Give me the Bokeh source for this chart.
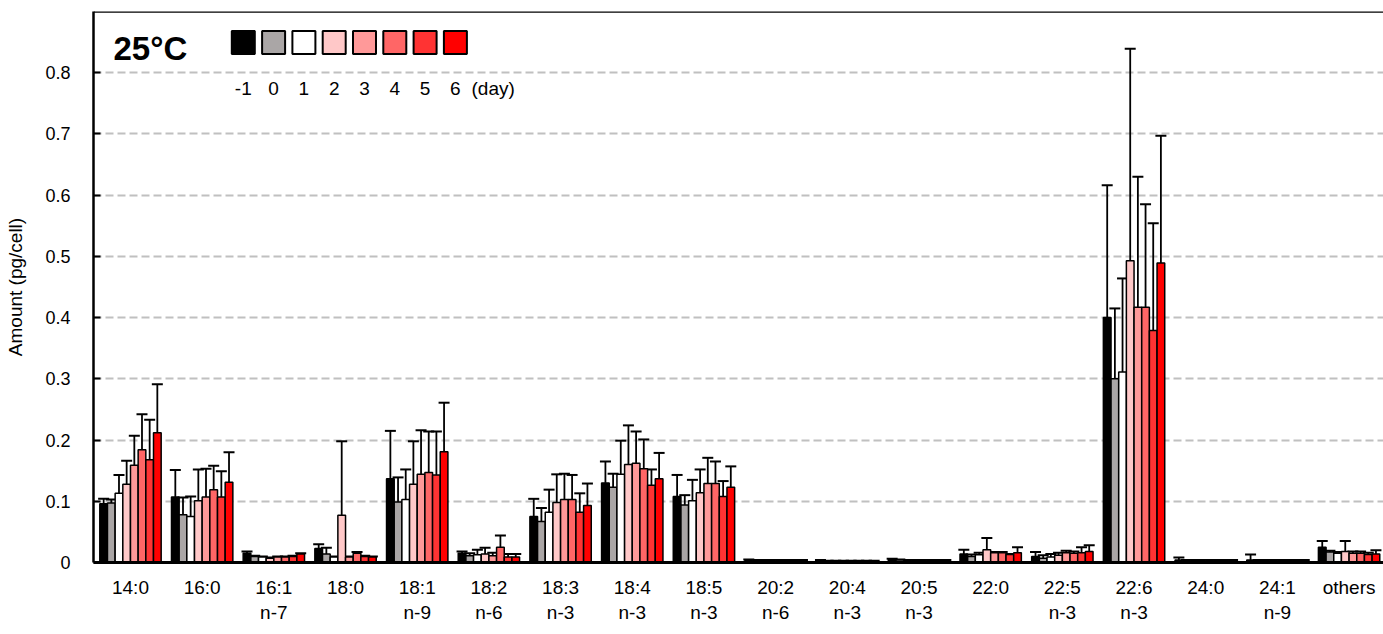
from bokeh.plotting import figure
from bokeh.models import (ColumnDataSource, Whisker, TeeHead, FixedTicker, Span,
                          CustomJSTickFormatter, Range1d)
from bokeh.core.properties import value
from bokeh.embed import file_html
from bokeh.resources import INLINE

# ---------------- data ----------------
groups = ["14:0", "16:0", "16:1\nn-7", "18:0", "18:1\nn-9", "18:2\nn-6", "18:3\nn-3",
          "18:4\nn-3", "18:5\nn-3", "20:2\nn-6", "20:4\nn-3", "20:5\nn-3", "22:0",
          "22:5\nn-3", "22:6\nn-3", "24:0", "24:1\nn-9", "others"]
days = ["-1", "0", "1", "2", "3", "4", "5", "6"]
colors = ["#000000", "#aaa6a6", "#ffffff", "#ffc8c8", "#ff9999", "#ff6666", "#ff3333", "#ff0000"]

day_m1 = [0.096, 0.107, 0.015, 0.023, 0.137, 0.015, 0.075, 0.130, 0.108, 0.004, 0.003, 0.005, 0.014, 0.010, 0.400, 0.004, 0.004, 0.025]
day_0 = [0.097, 0.078, 0.010, 0.014, 0.099, 0.011, 0.067, 0.123, 0.094, 0.003, 0.002, 0.004, 0.010, 0.007, 0.300, 0.003, 0.003, 0.017]
day_1 = [0.113, 0.075, 0.009, 0.009, 0.103, 0.0125, 0.082, 0.144, 0.101, 0.003, 0.002, 0.003, 0.0125, 0.009, 0.311, 0.003, 0.003, 0.015]
day_2 = [0.128, 0.101, 0.007, 0.077, 0.128, 0.014, 0.098, 0.160, 0.114, 0.003, 0.002, 0.003, 0.021, 0.012, 0.493, 0.003, 0.003, 0.018]
day_3 = [0.159, 0.107, 0.009, 0.009, 0.144, 0.011, 0.103, 0.162, 0.129, 0.003, 0.002, 0.003, 0.016, 0.016, 0.417, 0.003, 0.003, 0.015]
day_4 = [0.184, 0.119, 0.009, 0.015, 0.147, 0.025, 0.103, 0.153, 0.129, 0.003, 0.002, 0.003, 0.016, 0.015, 0.417, 0.003, 0.003, 0.015]
day_5 = [0.168, 0.107, 0.010, 0.010, 0.143, 0.009, 0.082, 0.126, 0.108, 0.003, 0.002, 0.003, 0.013, 0.016, 0.379, 0.003, 0.003, 0.013]
day_6 = [0.212, 0.131, 0.014, 0.009, 0.181, 0.009, 0.093, 0.137, 0.123, 0.003, 0.002, 0.003, 0.016, 0.018, 0.489, 0.003, 0.003, 0.014]

# top of each error bar (mean + SD)
top_m1 = [0.104, 0.151, 0.018, 0.030, 0.215, 0.018, 0.104, 0.165, 0.143, 0.005, 0.004, 0.006, 0.021, 0.017, 0.616, 0.008, 0.013, 0.035]
top_0 = [0.103, 0.106, 0.011, 0.024, 0.139, 0.015, 0.089, 0.145, 0.110, 0.004, 0.003, 0.005, 0.013, 0.012, 0.415, 0.004, 0.004, 0.019]
top_1 = [0.143, 0.108, 0.010, 0.010, 0.152, 0.021, 0.119, 0.199, 0.135, 0.004, 0.003, 0.004, 0.016, 0.014, 0.464, 0.004, 0.004, 0.017]
top_2 = [0.166, 0.152, 0.008, 0.198, 0.198, 0.024, 0.144, 0.224, 0.152, 0.004, 0.003, 0.004, 0.040, 0.016, 0.839, 0.004, 0.004, 0.035]
top_3 = [0.207, 0.153, 0.010, 0.010, 0.216, 0.016, 0.145, 0.214, 0.171, 0.004, 0.003, 0.004, 0.017, 0.019, 0.630, 0.004, 0.004, 0.018]
top_4 = [0.242, 0.158, 0.010, 0.017, 0.214, 0.044, 0.143, 0.201, 0.165, 0.004, 0.003, 0.004, 0.017, 0.018, 0.585, 0.004, 0.004, 0.018]
top_5 = [0.233, 0.149, 0.011, 0.011, 0.214, 0.014, 0.113, 0.152, 0.133, 0.004, 0.003, 0.004, 0.014, 0.025, 0.554, 0.004, 0.004, 0.016]
top_6 = [0.291, 0.180, 0.015, 0.010, 0.261, 0.014, 0.129, 0.179, 0.157, 0.004, 0.003, 0.004, 0.025, 0.028, 0.697, 0.004, 0.004, 0.020]

y_ticks = [0, 0.1, 0.2, 0.3, 0.4, 0.5, 0.6, 0.7, 0.8]

series = [day_m1, day_0, day_1, day_2, day_3, day_4, day_5, day_6]
tops = [top_m1, top_0, top_1, top_2, top_3, top_4, top_5, top_6]

# ---------------- layout ----------------
W, H = 1383, 634
FL, FT, FB = 93, 11, 562          # frame left / top / bottom in pixels
X0, X1 = -0.516, 17.48
Y0, Y1 = 0.0, 0.9
BAR_W = 0.107
FONT = "Liberation Sans"

def px2x(px):
    return X0 + (px - FL) * (X1 - X0) / (W - FL)

def py2y(py):
    return Y0 + (FB - py) * (Y1 - Y0) / (FB - FT)

p = figure(width=W, height=H, output_backend="svg", toolbar_location=None,
           x_range=Range1d(X0, X1), y_range=Range1d(Y0, Y1),
           min_border_left=FL, min_border_right=0, min_border_top=FT,
           min_border_bottom=H - FB)
p.outline_line_color = None
p.background_fill_color = "white"

# grid
p.xgrid.visible = False
p.ygrid.ticker = FixedTicker(ticks=y_ticks[1:])
p.ygrid.grid_line_color = "#c0c0c0"
p.ygrid.grid_line_width = 2
p.ygrid.grid_line_dash = "8 4"

# bars + error bars
n = len(series)
for k in range(n):
    xs = [i + (k - (n - 1) / 2) * BAR_W for i in range(len(groups))]
    src = ColumnDataSource(dict(x=xs, top=series[k], up=tops[k]))
    p.vbar(x="x", top="top", bottom=0, width=BAR_W, source=src,
           fill_color=colors[k], line_color="black", line_width=1.5)
    w = Whisker(base="x", lower="top", upper="up", source=src, dimension="height",
                line_color="black", line_width=1.8,
                upper_head=TeeHead(size=11, line_color="black", line_width=2),
                lower_head=None)
    p.add_layout(w)

# top border line
p.add_layout(Span(location=Y1, dimension="width", line_color="black", line_width=2.5))

# axes
xa = p.xaxis[0]
xa.ticker = FixedTicker(ticks=list(range(len(groups))))
xa.major_label_overrides = {i: g for i, g in enumerate(groups)}
xa.major_tick_in = 0
xa.major_tick_out = 0
xa.minor_tick_line_color = None
xa.axis_line_width = 3
xa.axis_line_color = "black"
xa.major_label_text_font = FONT
xa.major_label_text_font_size = "19px"
xa.major_label_text_color = "black"
xa.major_label_standoff = 14

ya = p.yaxis[0]
ya.ticker = FixedTicker(ticks=y_ticks)
ya.formatter = CustomJSTickFormatter(code="return tick == 0 ? '0' : tick.toFixed(1);")
ya.major_tick_in = 7
ya.major_tick_out = 0
ya.major_tick_line_width = 2
ya.minor_tick_line_color = None
ya.axis_line_width = 2.5
ya.axis_line_color = "black"
ya.major_label_text_font = FONT
ya.major_label_text_font_size = "18px"
ya.major_label_text_color = "black"
ya.major_label_standoff = 23
ya.axis_label = "Amount (pg/cell)"
ya.axis_label_text_font = FONT
ya.axis_label_text_font_size = "19px"
ya.axis_label_text_font_style = "normal"
ya.axis_label_text_color = "black"
ya.axis_label_standoff = 16

# legend block (title, colour squares, day labels)
p.text(x=[px2x(113)], y=[py2y(48)], text=["25°C"], text_font=value(FONT),
       text_font_size="33px", text_font_style="bold", text_color="black",
       text_align="left", text_baseline="alphabetic")
sq_x = [px2x(242.8 + 30.3 * k) for k in range(n)]
p.rect(x=sq_x, y=[py2y(42)] * n, width=23, height=23, width_units="screen",
       height_units="screen", fill_color=colors, line_color="black", line_width=2)
p.text(x=sq_x, y=[py2y(88)] * n, text=days, text_font=value(FONT),
       text_font_size="19px", text_color="black", text_align="center",
       text_baseline="alphabetic")
p.text(x=[px2x(471)], y=[py2y(88)], text=["(day)"], text_font=value(FONT),
       text_font_size="19px", text_color="black", text_align="left",
       text_baseline="alphabetic")

open("out.html", "w").write(file_html(p, INLINE))
